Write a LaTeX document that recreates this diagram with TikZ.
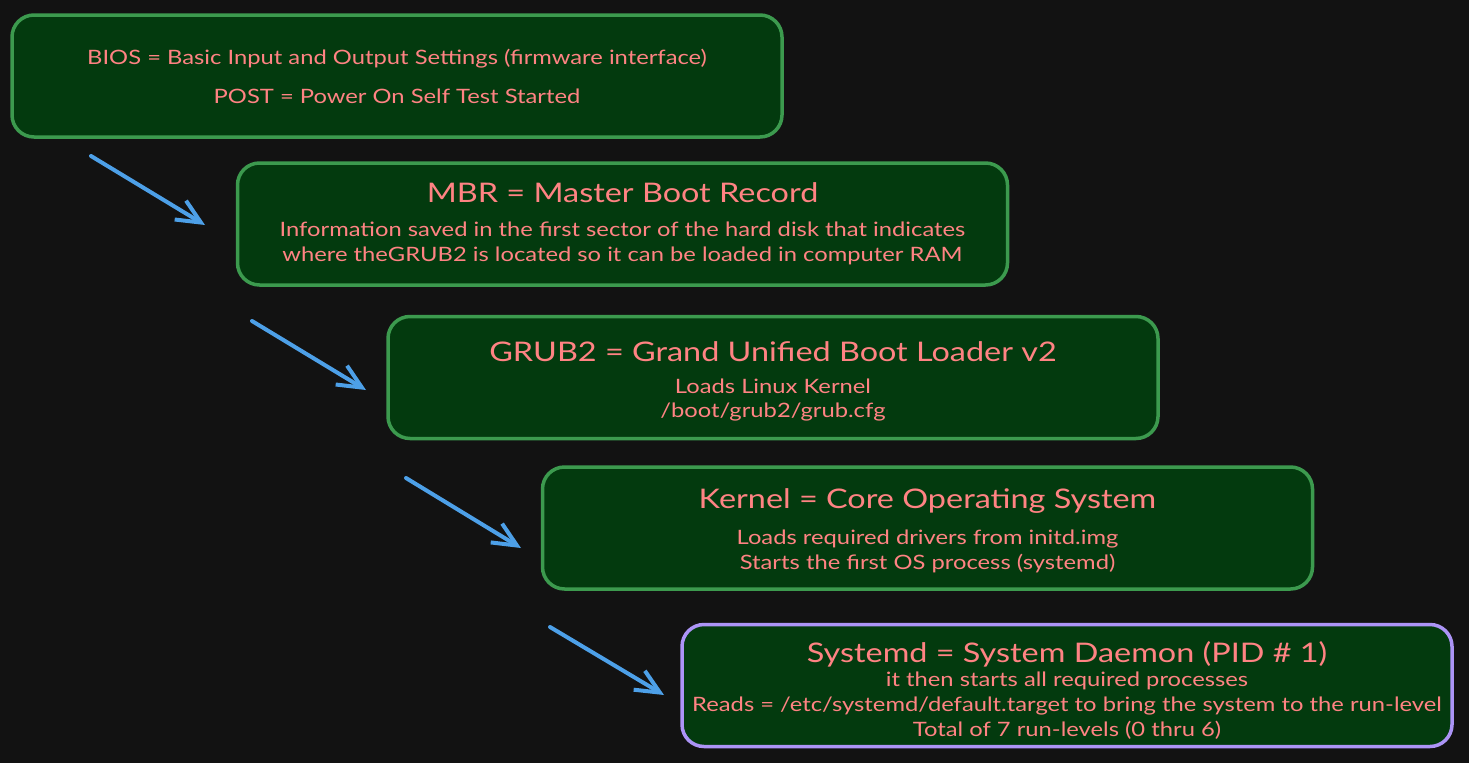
\documentclass[tikz,border=0pt]{standalone}
\usepackage{fontspec}
\setmainfont[FakeStretch=1.2]{Lato}
\usetikzlibrary{arrows.meta}
\usetikzlibrary{positioning}

\definecolor{bgdark}{RGB}{18,18,18}
\definecolor{boxfill}{RGB}{3,58,14}
\definecolor{boxgreen}{RGB}{60,154,78}
\definecolor{boxpurple}{RGB}{172,148,246}
\definecolor{salmon}{RGB}{255,131,131}
\definecolor{arrowblue}{RGB}{77,160,232}
% title line of a step, with a strut that pushes the block down a little
\newcommand{\steptitle}[2]{{\fontsize{27}{34}\selectfont\rule{0pt}{#1}#2}}

\begin{document}
\begin{tikzpicture}[line cap=round,line join=round,>
		={Straight Barb[length=24pt,width=22pt]},x=1pt,y=-1pt,
		stepbox/.style={draw=boxgreen,fill=boxfill,line width=3.5pt,
			rounded corners=22pt,minimum width=770pt,minimum height=122pt,
			align=center,text=salmon,font=\fontsize{19.8}{25}\selectfont},
		flow/.style={->,draw=arrowblue,line width=4pt}]
		\fill[bgdark] (0,0) rectangle (1469,763);
		% the five boot steps
		\node[stepbox] (bios) at (397,76) {BIOS = Basic Input and Output Settings (firmware interface)\\[14pt]
			POST = Power On Self Test Started};
		\node[stepbox] (mbr) at (622.5,224) {\steptitle{20pt}{MBR = Master Boot Record}\\[9pt]
			Information saved in the first sector of the hard disk that indicates\\
			where theGRUB2 is located so it can be loaded in computer RAM};
		\node[stepbox] (grub) at (773,377.5) {\steptitle{27pt}{GRUB2 = Grand Unified Boot Loader v2}\\[7pt]
			Loads Linux Kernel\\[-1pt]
			/boot/grub2/grub.cfg};
		\node[stepbox] (kernel) at (927.5,528) {\steptitle{26pt}{Kernel = Core Operating System}\\[11pt]
			Loads required drivers from initd.img\\
			Starts the first OS process (systemd)};
		\node[stepbox,draw=boxpurple] (systemd) at (1067,685.5) {\steptitle{31pt}{Systemd = System Daemon (PID \# 1)}\\[-1pt]
			it then starts all required processes\\
			Reads = /etc/systemd/default.target to bring the system to the run-level\\
			Total of 7 run-levels (0 thru 6)};
		% arrows between the steps
		\coordinate (s1) at (91,156);   \coordinate (e1) at (205,225);
		\coordinate (s2) at (252,321);  \coordinate (e2) at (366,390);
		\coordinate (s3) at (406,478);  \coordinate (e3) at (521,548);
		\coordinate (s4) at (550,627);  \coordinate (e4) at (664,695);
		\draw[flow] (s1) -- (e1);
		\draw[flow] (s2) -- (e2);
		\draw[flow] (s3) -- (e3);
		\draw[flow] (s4) -- (e4);
\end{tikzpicture}
\end{document}
